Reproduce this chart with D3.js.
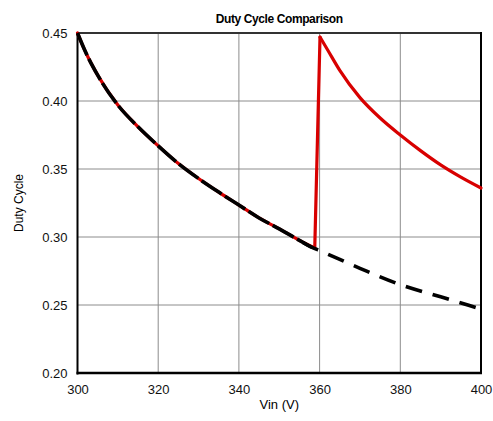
<!DOCTYPE html>
<html>
<head>
<meta charset="utf-8">
<script src="https://cdn.jsdelivr.net/npm/d3@7"></script>
<style>
  body { margin: 0; background: #fff; }
  svg { font-family: "Liberation Sans", Arial, sans-serif; }
</style>
</head>
<body>
<div id="chart"></div>
<script>
// values
var vinBlack = [300, 302, 305, 310, 315, 320, 325, 330, 335, 340, 345, 350, 355, 358, 360, 370, 380, 390, 400];
var dutyBlack = [0.450, 0.436, 0.419, 0.397, 0.381, 0.367, 0.354, 0.343, 0.333, 0.3235, 0.314, 0.306, 0.2975, 0.2925, 0.290, 0.277, 0.265, 0.256, 0.247];

var vinRed = [300, 302, 305, 310, 315, 320, 325, 330, 335, 340, 345, 350, 355, 358.8, 360.1, 362, 365, 370, 375, 380, 385, 390, 395, 400];
var dutyRed = [0.450, 0.436, 0.419, 0.397, 0.381, 0.367, 0.354, 0.343, 0.333, 0.3235, 0.314, 0.306, 0.2975, 0.292, 0.447, 0.4375, 0.4225, 0.4025, 0.3875, 0.375, 0.3635, 0.353, 0.344, 0.336];
var jumpStart = 358.8, jumpEnd = 360.1;

var xTicks = [300, 320, 340, 360, 380, 400];
var yTicks = [0.20, 0.25, 0.30, 0.35, 0.40, 0.45];

var width = 493, height = 421;
var margin = {left: 77.5, right: 12, top: 33, bottom: 48};

var svg = d3.select("#chart").append("svg")
    .attr("width", width)
    .attr("height", height);

var x = d3.scaleLinear().domain([300, 400]).range([margin.left, width - margin.right]);
var y = d3.scaleLinear().domain([0.20, 0.45]).range([height - margin.bottom, margin.top]);

// grid
svg.append("g")
  .selectAll("line.vg")
  .data(xTicks.slice(1, -1))
  .enter().append("line")
    .attr("x1", function(d) { return x(d); })
    .attr("x2", function(d) { return x(d); })
    .attr("y1", y(0.20))
    .attr("y2", y(0.45))
    .attr("stroke", "#8c8c8c")
    .attr("stroke-width", 1);

svg.append("g")
  .selectAll("line.hg")
  .data(yTicks.slice(1, -1))
  .enter().append("line")
    .attr("x1", x(300))
    .attr("x2", x(400))
    .attr("y1", function(d) { return y(d); })
    .attr("y2", function(d) { return y(d); })
    .attr("stroke", "#8c8c8c")
    .attr("stroke-width", 1);

// axes (labels only, frame drawn separately)
var xAxis = svg.append("g")
    .attr("transform", "translate(0," + y(0.20) + ")")
    .call(d3.axisBottom(x).tickValues(xTicks).tickFormat(d3.format("d")).tickSize(0).tickPadding(12));
var yAxis = svg.append("g")
    .attr("transform", "translate(" + x(300) + ",0)")
    .call(d3.axisLeft(y).tickValues(yTicks).tickFormat(d3.format(".2f")).tickSize(0).tickPadding(10));
[xAxis, yAxis].forEach(function(a) {
  a.select(".domain").remove();
  a.selectAll("text").attr("font-size", 13).attr("fill", "#111").attr("font-family", "Liberation Sans, Arial, sans-serif");
});

// frame
svg.append("line").attr("x1", x(300)).attr("x2", x(400)).attr("y1", y(0.45)).attr("y2", y(0.45))
  .attr("stroke", "#333").attr("stroke-width", 2);
svg.append("line").attr("x1", x(400)).attr("x2", x(400)).attr("y1", y(0.45) - 1).attr("y2", y(0.20) + 1)
  .attr("stroke", "#000").attr("stroke-width", 2);
svg.append("line").attr("x1", x(300)).attr("x2", x(300)).attr("y1", y(0.45) - 1).attr("y2", y(0.20) + 1.5)
  .attr("stroke", "#000").attr("stroke-width", 2);
svg.append("line").attr("x1", x(300) - 1).attr("x2", x(400) + 1).attr("y1", y(0.20)).attr("y2", y(0.20))
  .attr("stroke", "#000").attr("stroke-width", 2.5);

var line = d3.line()
    .x(function(d) { return x(d[0]); })
    .y(function(d) { return y(d[1]); })
    .curve(d3.curveMonotoneX);
var straight = d3.line()
    .x(function(d) { return x(d[0]); })
    .y(function(d) { return y(d[1]); });

var redData = d3.zip(vinRed, dutyRed);
var blackData = d3.zip(vinBlack, dutyBlack);

// red series: smooth before and after the jump, straight through it
var redParts = [
  [line, redData.filter(function(d) { return d[0] <= jumpStart; })],
  [straight, redData.filter(function(d) { return d[0] >= jumpStart && d[0] <= jumpEnd; })],
  [line, redData.filter(function(d) { return d[0] >= jumpEnd; })]
];
redParts.forEach(function(p) {
  svg.append("path")
      .datum(p[1])
      .attr("d", p[0])
      .attr("fill", "none")
      .attr("stroke", "#d80000")
      .attr("stroke-width", 3.2)
      .attr("stroke-linejoin", "round")
      .attr("stroke-linecap", "round");
});

// black dashed series, the overlapping part uses short gaps
svg.append("path")
    .datum(blackData.filter(function(d) { return d[0] <= 358; }))
    .attr("d", line)
    .attr("fill", "none")
    .attr("stroke", "#000")
    .attr("stroke-width", 3.6)
    .attr("stroke-dasharray", "24,4");

svg.append("path")
    .datum(blackData.filter(function(d) { return d[0] >= 355; }))
    .attr("d", line)
    .attr("fill", "none")
    .attr("stroke", "#000")
    .attr("stroke-width", 3.6)
    .attr("stroke-dasharray", "17,11")
    .attr("stroke-dashoffset", -4);

// titles
svg.append("text")
    .attr("x", (x(300) + x(400)) / 2)
    .attr("y", 23)
    .attr("text-anchor", "middle")
    .attr("font-size", 12)
    .attr("font-weight", "bold")
    .attr("letter-spacing", -0.4)
    .text("Duty Cycle Comparison");

svg.append("text")
    .attr("x", (x(300) + x(400)) / 2)
    .attr("y", 409)
    .attr("text-anchor", "middle")
    .attr("font-size", 13)
    .text("Vin (V)");

svg.append("text")
    .attr("transform", "translate(23," + (y(0.325)) + ") rotate(-90)")
    .attr("text-anchor", "middle")
    .attr("font-size", 12)
    .text("Duty Cycle");
</script>
</body>
</html>
